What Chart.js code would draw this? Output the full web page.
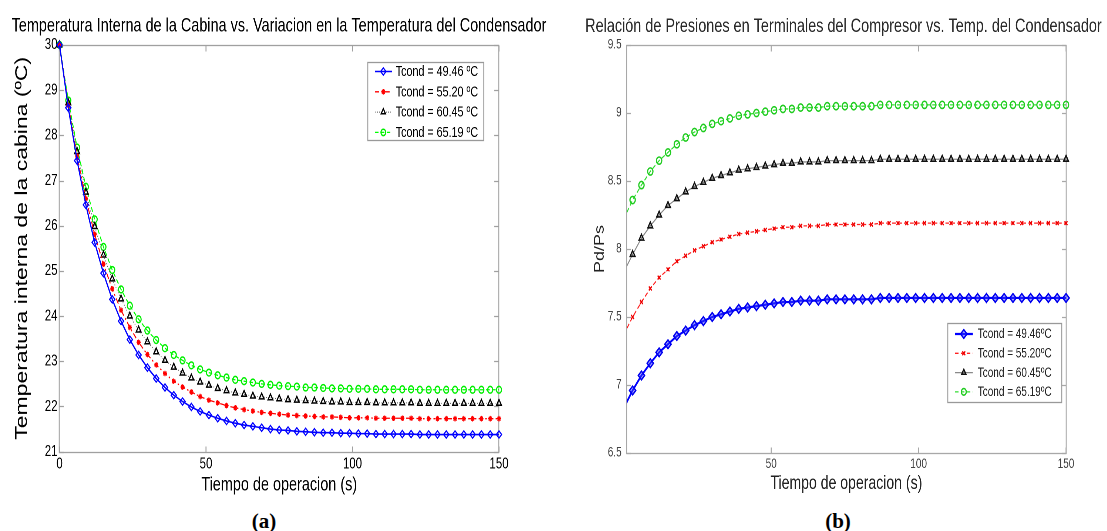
<!DOCTYPE html>
<html>
<head>
<meta charset="utf-8">
<title>Temperatura de cabina y relacion de presiones</title>
<script src="https://cdn.jsdelivr.net/npm/chart.js@4.4.1/dist/chart.umd.min.js"></script>
<style>
  html, body { margin: 0; padding: 0; background: #fff; }
  body { width: 1107px; height: 531px; position: relative; overflow: hidden; }
  /* la figura original esta comprimida en horizontal */
  .squeeze { position: absolute; top: 0; transform: scaleX(0.74); transform-origin: 0 0; }
  #wrapA { left: 0; }
  #wrapB { left: 580px; }
  .tag { position: absolute; top: 509px; width: 100px; text-align: center; line-height: 24px;
         font: bold 21px "Liberation Serif", "Times New Roman", serif; color: #000; }
</style>
</head>
<body>
<div class="squeeze" id="wrapA"><canvas id="chartA" width="754" height="500"></canvas></div>
<div class="squeeze" id="wrapB"><canvas id="chartB" width="712" height="500"></canvas></div>
<div class="tag" style="left:214px">(a)</div>
<div class="tag" style="left:788px">(b)</div>

<script>
// datos (cada 3 s)
var tiempo = [0, 3, 6, 9, 12, 15, 18, 21, 24, 27, 30, 33, 36, 39, 42, 45, 48, 51, 54, 57,
  60, 63, 66, 69, 72, 75, 78, 81, 84, 87, 90, 93, 96, 99, 102, 105, 108, 111, 114, 117,
  120, 123, 126, 129, 132, 135, 138, 141, 144, 147, 150];

var leyendaA = ['Tcond = 49.46 ºC', 'Tcond = 55.20 ºC', 'Tcond = 60.45 ºC', 'Tcond = 65.19 ºC'];
var leyendaB = ['Tcond = 49.46ºC', 'Tcond = 55.20ºC', 'Tcond = 60.45ºC', 'Tcond = 65.19ºC'];

// (a) temperatura interna de la cabina (ºC)
var tempT49 = [30.00, 28.61, 27.44, 26.46, 25.63, 24.95, 24.37, 23.89, 23.48, 23.14, 22.86, 22.62,
  22.42, 22.25, 22.11, 21.99, 21.89, 21.81, 21.74, 21.68, 21.63, 21.59, 21.56, 21.53, 21.50, 21.48,
  21.47, 21.45, 21.44, 21.43, 21.42, 21.42, 21.41, 21.41, 21.40, 21.40, 21.39, 21.39, 21.39, 21.39,
  21.39, 21.38, 21.38, 21.38, 21.38, 21.38, 21.38, 21.38, 21.38, 21.38, 21.38];
var tempT55 = [30.00, 28.66, 27.54, 26.60, 25.81, 25.15, 24.60, 24.13, 23.75, 23.42, 23.15, 22.92,
  22.73, 22.56, 22.43, 22.32, 22.22, 22.14, 22.08, 22.02, 21.97, 21.93, 21.90, 21.87, 21.85, 21.83,
  21.81, 21.80, 21.79, 21.78, 21.77, 21.77, 21.76, 21.75, 21.75, 21.75, 21.74, 21.74, 21.74, 21.74,
  21.74, 21.73, 21.73, 21.73, 21.73, 21.73, 21.73, 21.73, 21.73, 21.73, 21.73];
var tempT60 = [30.00, 28.72, 27.64, 26.74, 25.98, 25.35, 24.82, 24.38, 24.00, 23.69, 23.43, 23.21,
  23.02, 22.87, 22.74, 22.63, 22.54, 22.47, 22.40, 22.35, 22.30, 22.27, 22.23, 22.21, 22.19, 22.17,
  22.15, 22.14, 22.13, 22.12, 22.11, 22.10, 22.10, 22.09, 22.09, 22.09, 22.08, 22.08, 22.08, 22.08,
  22.08, 22.07, 22.07, 22.07, 22.07, 22.07, 22.07, 22.07, 22.07, 22.07, 22.07];
var tempT65 = [30.00, 28.77, 27.73, 26.86, 26.14, 25.53, 25.02, 24.59, 24.23, 23.93, 23.68, 23.47,
  23.29, 23.14, 23.02, 22.91, 22.82, 22.75, 22.69, 22.64, 22.59, 22.56, 22.53, 22.50, 22.48, 22.46,
  22.45, 22.44, 22.42, 22.42, 22.41, 22.40, 22.40, 22.39, 22.39, 22.39, 22.38, 22.38, 22.38, 22.38,
  22.38, 22.37, 22.37, 22.37, 22.37, 22.37, 22.37, 22.37, 22.37, 22.37, 22.37];

// (b) relacion de presiones Pd/Ps
var pdpsT49 = [6.83, 6.96, 7.07, 7.16, 7.24, 7.30, 7.36, 7.40, 7.44, 7.47, 7.50, 7.52, 7.54, 7.56,
  7.57, 7.58, 7.59, 7.60, 7.61, 7.61, 7.62, 7.62, 7.62, 7.63, 7.63, 7.63, 7.63, 7.63, 7.63, 7.64,
  7.64, 7.64, 7.64, 7.64, 7.64, 7.64, 7.64, 7.64, 7.64, 7.64, 7.64, 7.64, 7.64, 7.64, 7.64, 7.64,
  7.64, 7.64, 7.64, 7.64, 7.64];
var pdpsT55 = [7.37, 7.50, 7.61, 7.71, 7.79, 7.85, 7.91, 7.95, 7.99, 8.02, 8.05, 8.07, 8.09, 8.11,
  8.12, 8.13, 8.14, 8.15, 8.16, 8.16, 8.17, 8.17, 8.17, 8.18, 8.18, 8.18, 8.18, 8.18, 8.18, 8.19,
  8.19, 8.19, 8.19, 8.19, 8.19, 8.19, 8.19, 8.19, 8.19, 8.19, 8.19, 8.19, 8.19, 8.19, 8.19, 8.19,
  8.19, 8.19, 8.19, 8.19, 8.19];
var pdpsT60 = [7.83, 7.96, 8.08, 8.17, 8.25, 8.32, 8.37, 8.42, 8.46, 8.49, 8.52, 8.54, 8.56, 8.58,
  8.59, 8.60, 8.61, 8.62, 8.63, 8.63, 8.64, 8.64, 8.64, 8.65, 8.65, 8.65, 8.65, 8.65, 8.65, 8.66,
  8.66, 8.66, 8.66, 8.66, 8.66, 8.66, 8.66, 8.66, 8.66, 8.66, 8.66, 8.66, 8.66, 8.66, 8.66, 8.66,
  8.66, 8.66, 8.66, 8.66, 8.66];
var pdpsT65 = [8.22, 8.36, 8.47, 8.57, 8.65, 8.71, 8.77, 8.82, 8.86, 8.89, 8.92, 8.94, 8.96, 8.98,
  8.99, 9.00, 9.01, 9.02, 9.03, 9.03, 9.04, 9.04, 9.04, 9.05, 9.05, 9.05, 9.05, 9.05, 9.05, 9.06,
  9.06, 9.06, 9.06, 9.06, 9.06, 9.06, 9.06, 9.06, 9.06, 9.06, 9.06, 9.06, 9.06, 9.06, 9.06, 9.06,
  9.06, 9.06, 9.06, 9.06, 9.06];

// marcas de los ejes
var ticksXA = [0, 50, 100, 150];
var ticksYA = [21, 22, 23, 24, 25, 26, 27, 28, 29, 30];
var ticksXB = [50, 100, 150];
var ticksYB = [6.5, 7, 7.5, 8, 8.5, 9, 9.5];

var SANS = '"Liberation Sans", Arial, sans-serif';

function serie(valores) {
  return tiempo.map(function(t, i) { return { x: t, y: valores[i] }; });
}

function fijarTicks(lista) {
  return function(scale) {
    scale.ticks = lista.map(function(v) { return { value: v }; });
  };
}

// caja gris del eje con marcas hacia adentro (estilo MATLAB)
var marco = {
  id: 'marco',
  beforeDatasetsDraw: function(chart, args, o) {
    var ctx = chart.ctx, a = chart.chartArea;
    var sx = chart.scales.x, sy = chart.scales.y;
    var l = Math.round(a.left), r = Math.round(a.right);
    var t = Math.round(a.top) + 0.5, b = Math.round(a.bottom) + 0.5;
    ctx.save();
    ctx.strokeStyle = o.color;
    ctx.lineWidth = 1.3;
    ctx.strokeRect(l, t, r - l, b - t);
    ctx.beginPath();
    sx.ticks.forEach(function(tk) {
      var px = sx.getPixelForValue(tk.value);
      ctx.moveTo(px, b); ctx.lineTo(px, b - o.length);
      ctx.moveTo(px, t); ctx.lineTo(px, t + o.length);
    });
    sy.ticks.forEach(function(tk) {
      var py = Math.round(sy.getPixelForValue(tk.value)) + 0.5;
      ctx.moveTo(l, py); ctx.lineTo(l + o.length, py);
      ctx.moveTo(r, py); ctx.lineTo(r - o.length, py);
    });
    ctx.stroke();
    ctx.restore();
  }
};

// leyenda dentro del area del grafico
var leyenda = {
  id: 'leyenda',
  afterDraw: function(chart, args, o) {
    var ctx = chart.ctx, a = chart.chartArea;
    var x0 = Math.round(a.right - o.right - o.width);
    var y0 = Math.round(a.top + o.top) + 0.5;
    ctx.save();
    ctx.fillStyle = '#fff';
    ctx.fillRect(x0, y0, o.width, o.height);
    ctx.strokeStyle = o.borderColor;
    ctx.lineWidth = 1.3;
    ctx.strokeRect(x0, y0, o.width, o.height);
    chart.data.datasets.forEach(function(ds, i) {
      var cy = y0 + o.firstRow + i * o.rowHeight;
      var xs = x0 + o.lineStart;
      ctx.save();
      ctx.strokeStyle = ds.borderColor;
      ctx.lineWidth = ds.borderWidth;
      ctx.setLineDash(ds.borderDash || []);
      ctx.beginPath();
      ctx.moveTo(xs, cy);
      ctx.lineTo(xs + o.lineLength, cy);
      ctx.stroke();
      ctx.setLineDash([]);
      ctx.strokeStyle = ds.pointBorderColor;
      ctx.fillStyle = ds.pointBackgroundColor;
      ctx.lineWidth = ds.pointBorderWidth;
      Chart.helpers.drawPoint(ctx, {
        pointStyle: ds.pointStyle, rotation: 0,
        radius: ds.legendRadius, borderWidth: ds.pointBorderWidth
      }, xs + o.lineLength / 2, cy);
      ctx.restore();
      ctx.fillStyle = o.color;
      ctx.font = o.size + 'px ' + SANS;
      ctx.textBaseline = 'middle';
      ctx.fillText(o.labels[i], x0 + o.textStart, cy + 0.5);
    });
    ctx.restore();
  }
};

// sin rejilla ni marcas de Chart.js: el plugin marco dibuja la caja
var sinRejilla = { display: false, drawTicks: false };

document.addEventListener('DOMContentLoaded', function() {

  // (a) Temperatura interna de la cabina
  new Chart(document.getElementById('chartA'), {
    type: 'line',
    data: {
      datasets: [
        { label: leyendaA[0], data: serie(tempT49), borderColor: '#0000ff', borderWidth: 1.6,
          pointStyle: 'rectRot', pointRadius: 3.6, legendRadius: 3.6, pointBorderColor: '#0000ff',
          pointBackgroundColor: 'rgba(255,255,255,0)', pointBorderWidth: 1.4 },
        { label: leyendaA[1], data: serie(tempT55), borderColor: '#ff0000', borderWidth: 1.3,
          borderDash: [6, 3, 2, 3], pointStyle: 'star', pointRadius: 2.8, legendRadius: 2.8,
          pointBorderColor: '#ff0000', pointBackgroundColor: 'rgba(255,255,255,0)', pointBorderWidth: 1.4 },
        { label: leyendaA[2], data: serie(tempT60), borderColor: '#555555', borderWidth: 1,
          borderDash: [1, 2], pointStyle: 'triangle', pointRadius: 3.8, legendRadius: 3.4,
          pointBorderColor: '#000000', pointBackgroundColor: 'rgba(255,255,255,0)', pointBorderWidth: 1.5 },
        { label: leyendaA[3], data: serie(tempT65), borderColor: '#00ff00', borderWidth: 1.3,
          borderDash: [5, 3], pointStyle: 'circle', pointRadius: 3.4, legendRadius: 3.2,
          pointBorderColor: '#00ee00', pointBackgroundColor: 'rgba(255,255,255,0)', pointBorderWidth: 1.5 }
      ]
    },
    options: {
      responsive: false,
      animation: false,
      devicePixelRatio: 2,
      layout: { padding: 0 },
      datasets: { line: { clip: false, tension: 0 } },
      plugins: {
        legend: { display: false },
        tooltip: { enabled: false },
        title: {
          display: true,
          text: 'Temperatura Interna de la Cabina vs. Variacion en la Temperatura del Condensador',
          color: '#000',
          font: { family: SANS, size: 19.5, weight: 'normal' },
          padding: { top: 14.3, bottom: 7.2 }
        },
        marco: { color: '#a0a0a0', length: 6 },
        leyenda: { labels: leyendaA, right: 20.3, top: 17, width: 156.8, height: 78,
          firstRow: 9, rowHeight: 20.3, lineStart: 9.5, lineLength: 23, textStart: 37.8,
          size: 14.5, color: '#000', borderColor: '#999' }
      },
      scales: {
        x: {
          type: 'linear', min: 0, max: 150,
          afterBuildTicks: fijarTicks(ticksXA),
          grid: sinRejilla, border: { display: false },
          ticks: { color: '#000', padding: 3, maxRotation: 0, autoSkip: false,
            font: { family: SANS, size: 15.5 } },
          title: { display: true, text: 'Tiempo de operacion (s)', color: '#000',
            font: { family: SANS, size: 19.5 }, padding: { top: 0, bottom: 3.3 } },
          afterFit: function(s) { s.height = 48.3; }
        },
        y: {
          min: 21, max: 30,
          afterBuildTicks: fijarTicks(ticksYA),
          grid: sinRejilla, border: { display: false },
          ticks: { color: '#000', padding: 2.7, autoSkip: false, font: { family: SANS, size: 15.5 } },
          title: { display: true, text: 'Temperatura interna de la cabina (ºC)', color: '#000',
            font: { family: SANS, size: 23 }, padding: { top: 16.6, bottom: 0 } },
          afterFit: function(s) { s.width = 80.4; }
        },
        yd: {
          position: 'right', display: true,
          grid: sinRejilla, border: { display: false }, ticks: { display: false },
          afterFit: function(s) { s.width = 79.7; }
        }
      }
    },
    plugins: [marco, leyenda]
  });

  // (b) Relacion de presiones del compresor
  var sinPrimero = function(r) {
    return function(ctx) { return ctx.dataIndex === 0 ? 0 : r; };
  };

  new Chart(document.getElementById('chartB'), {
    type: 'line',
    data: {
      datasets: [
        { label: leyendaB[0], data: serie(pdpsT49), borderColor: '#0000ff', borderWidth: 2.2,
          pointStyle: 'rectRot', pointRadius: sinPrimero(4.3), legendRadius: 4.3, pointBorderColor: '#0000ee',
          pointBackgroundColor: 'rgba(60,60,255,0.45)', pointBorderWidth: 1.7 },
        { label: leyendaB[1], data: serie(pdpsT55), borderColor: '#ff2020', borderWidth: 1.3,
          borderDash: [5, 3], pointStyle: 'crossRot', pointRadius: sinPrimero(2.8), legendRadius: 2.8,
          pointBorderColor: '#ee0000', pointBackgroundColor: 'rgba(255,0,0,0.4)', pointBorderWidth: 1.5 },
        { label: leyendaB[2], data: serie(pdpsT60), borderColor: '#8a8a8a', borderWidth: 1.3,
          pointStyle: 'triangle', pointRadius: sinPrimero(3.8), legendRadius: 3.3,
          pointBorderColor: '#111111', pointBackgroundColor: 'rgba(0,0,0,0.15)', pointBorderWidth: 1.6 },
        { label: leyendaB[3], data: serie(pdpsT65), borderColor: '#33dd33', borderWidth: 1.3,
          borderDash: [5, 3], pointStyle: 'circle', pointRadius: sinPrimero(3.6), legendRadius: 3.3,
          pointBorderColor: '#22cc22', pointBackgroundColor: 'rgba(255,255,255,0)', pointBorderWidth: 1.6 }
      ]
    },
    options: {
      responsive: false,
      animation: false,
      devicePixelRatio: 2,
      layout: { padding: 0 },
      datasets: { line: { clip: { left: 0, top: false, right: false, bottom: false }, tension: 0 } },
      plugins: {
        legend: { display: false },
        tooltip: { enabled: false },
        title: {
          display: true,
          text: 'Relación de Presiones en Terminales del Compresor vs. Temp. del Condensador',
          color: '#2a2a2a',
          font: { family: SANS, size: 19.5, weight: 'normal' },
          padding: { top: 14.8, bottom: 6.8 }
        },
        marco: { color: '#a8a8a8', length: 6 },
        leyenda: { labels: leyendaB, right: 5.4, top: 278, width: 154, height: 79,
          firstRow: 10.5, rowHeight: 19.3, lineStart: 9.5, lineLength: 24.3, textStart: 40.5,
          size: 13.5, color: '#222', borderColor: '#999' }
      },
      scales: {
        x: {
          type: 'linear', min: 1, max: 150,
          afterBuildTicks: fijarTicks(ticksXB),
          grid: sinRejilla, border: { display: false },
          ticks: { color: '#444', padding: 3, maxRotation: 0, autoSkip: false,
            font: { family: SANS, size: 13.5 } },
          title: { display: true, text: 'Tiempo de operacion (s)', color: '#222',
            font: { family: SANS, size: 19 }, padding: { top: 0, bottom: 4.6 } },
          afterFit: function(s) { s.height = 47; }
        },
        y: {
          min: 6.5, max: 9.5,
          afterBuildTicks: fijarTicks(ticksYB),
          grid: sinRejilla, border: { display: false },
          ticks: { color: '#444', padding: 6.8, autoSkip: false, font: { family: SANS, size: 13.5 },
            callback: function(v) { return String(v); } },
          title: { display: true, text: 'Pd/Ps', color: '#222',
            font: { family: SANS, size: 18 }, padding: { top: 16.2, bottom: 0 } },
          afterFit: function(s) { s.width = 63.1; }
        },
        yd: {
          position: 'right', display: true,
          grid: sinRejilla, border: { display: false }, ticks: { display: false },
          afterFit: function(s) { s.width = 55.2; }
        }
      }
    },
    plugins: [marco, leyenda]
  });
});
</script>
</body>
</html>
